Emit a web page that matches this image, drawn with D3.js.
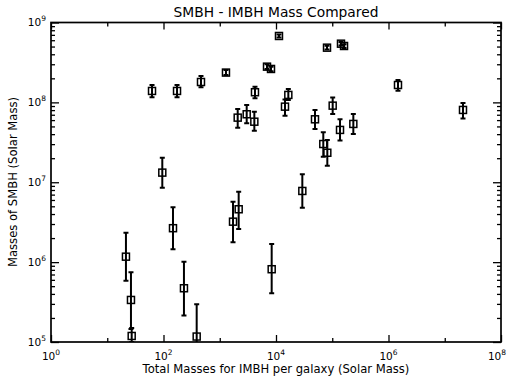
<!DOCTYPE html>
<html>
<head>
<meta charset="utf-8">
<script src="https://d3js.org/d3.v7.min.js"></script>
<style>
    body { margin: 0; background: #fff; }
    svg { display: block; font-family: "DejaVu Sans", sans-serif; }
</style>
</head>
<body>
<svg width="510" height="380"></svg>
<script>

// imbh total mass per galaxy (x) and smbh mass (y) with error range
var imbhMass = [62.5, 174, 464, 1290, 6920, 8150, 11300, 80700, 143000, 162000, 1.475e6, 2.11e7,
    4230, 2085, 3013, 4120, 14450, 16560, 49340, 101800, 69300, 81700, 137400, 237000,
    29380, 8380, 95.2, 147.5, 1721, 2170, 21.5, 26.4, 27.2, 231, 389];
var smbhMass = [1.39e8, 1.39e8, 1.80e8, 2.36e8, 2.80e8, 2.62e8, 6.78e8, 4.84e8, 5.43e8, 5.08e8, 1.65e8, 8.04e7,
    1.34e8, 6.44e7, 7.1e7, 5.73e7, 8.84e7, 1.24e8, 6.14e7, 9.1e7, 3.01e7, 2.34e7, 4.52e7, 5.37e7,
    7.78e6, 8.15e5, 1.32e7, 2.66e6, 3.21e6, 4.59e6, 1.17e6, 3.36e5, 1.19e5, 4.71e5, 1.17e5];
var smbhLow = [1.16e8, 1.16e8, 1.55e8, 2.2e8, 2.62e8, 2.45e8, 6.5e8, 4.6e8, 5.15e8, 4.8e8, 1.40e8, 6.3e7,
    1.13e8, 4.82e7, 5.47e7, 4.42e7, 6.82e7, 1.07e8, 4.65e7, 7.16e7, 2.09e7, 1.61e7, 3.32e7, 4.03e7,
    4.81e6, 4.08e5, 8.55e6, 1.45e6, 1.77e6, 2.6e6, 5.86e5, 1.45e5, 1.0e5, 2.14e5, 5e4];
var smbhHigh = [1.65e8, 1.65e8, 2.14e8, 2.55e8, 3.0e8, 2.8e8, 7.1e8, 5.1e8, 5.7e8, 5.35e8, 1.91e8, 9.8e7,
    1.57e8, 8.27e7, 9.27e7, 7.65e7, 1.09e8, 1.47e8, 8.03e7, 1.15e8, 4.22e7, 3.38e7, 6.14e7, 7.16e7,
    1.26e7, 1.69e6, 2.03e7, 4.86e6, 5.71e6, 7.62e6, 2.34e6, 7.48e5, 1.5e5, 1.01e6, 2.97e5];

var xMajor = [0, 2, 4, 6, 8];
var xMinor = [1, 3, 5, 7];
var yMajor = [5, 6, 7, 8, 9];

var svg = d3.select("svg"),
    width = +svg.attr("width"),
    height = +svg.attr("height");

var boxLeft = 51, boxRight = 501, boxTop = 22.5, boxBottom = 342;

var x = d3.scaleLog().domain([1, 1e8]).range([boxLeft, boxRight]);
var y = d3.scaleLog().domain([1e5, 1e9]).range([boxBottom, boxTop]);

var points = imbhMass.map(function (d, i) {
    return { x: d, y: smbhMass[i], lo: smbhLow[i], hi: smbhHigh[i] };
});

//minor y ticks 2..9 in each decade
var yMinor = [];
yMajor.slice(0, -1).forEach(function (p) {
    for (var k = 2; k <= 9; k++) yMinor.push(k * Math.pow(10, p));
});

function pow10(p) { return Math.pow(10, p); }

//ticks, all pointing inward
function tickAxis(axis, sel, vals, size) {
    var g = svg.append("g")
        .attr("transform", sel)
        .call(axis.tickValues(vals).tickSize(-size).tickFormat(""));
    g.select(".domain").remove();
    g.selectAll("line").attr("stroke", "#000").attr("stroke-width", 1.3);
    return g;
}

tickAxis(d3.axisBottom(x), "translate(0," + boxBottom + ")", xMajor.map(pow10), 7);
tickAxis(d3.axisBottom(x), "translate(0," + boxBottom + ")", xMinor.map(pow10), 4);
tickAxis(d3.axisTop(x), "translate(0," + boxTop + ")", xMajor.map(pow10), 7);
tickAxis(d3.axisTop(x), "translate(0," + boxTop + ")", xMinor.map(pow10), 4);
tickAxis(d3.axisLeft(y), "translate(" + boxLeft + ",0)", yMajor.map(pow10), 8);
tickAxis(d3.axisLeft(y), "translate(" + boxLeft + ",0)", yMinor, 4);
tickAxis(d3.axisRight(y), "translate(" + boxRight + ",0)", yMajor.map(pow10), 8);
tickAxis(d3.axisRight(y), "translate(" + boxRight + ",0)", yMinor, 4);

//frame
svg.append("rect")
    .attr("x", boxLeft)
    .attr("y", boxTop)
    .attr("width", boxRight - boxLeft)
    .attr("height", boxBottom - boxTop)
    .attr("fill", "none")
    .attr("stroke", "#000")
    .attr("stroke-width", 1.7);

//tick labels with superscript exponent
var xLab = svg.append("g").selectAll("text")
    .data(xMajor)
    .enter().append("text")
    .attr("x", function (d) { return x(pow10(d)) - (d == 8 ? 4 : 0); })
    .attr("y", 360)
    .attr("text-anchor", "middle")
    .attr("font-size", 10.5);
xLab.append("tspan").text("10");
xLab.append("tspan").attr("dy", -5).attr("font-size", 7.5).text(function (d) { return d; });

var yLab = svg.append("g").selectAll("text")
    .data(yMajor)
    .enter().append("text")
    .attr("x", 46)
    .attr("y", function (d) { return y(pow10(d)) + 3.5; })
    .attr("text-anchor", "end")
    .attr("font-size", 10.5);
yLab.append("tspan").text("10");
yLab.append("tspan").attr("dy", -5).attr("font-size", 7.5).text(function (d) { return d; });

//titles
svg.append("text")
    .attr("x", (boxLeft + boxRight) / 2)
    .attr("y", 17)
    .attr("text-anchor", "middle")
    .attr("font-size", 13.8)
    .text("SMBH - IMBH Mass Compared");

svg.append("text")
    .attr("x", (boxLeft + boxRight) / 2)
    .attr("y", 373)
    .attr("text-anchor", "middle")
    .attr("font-size", 11.6)
    .text("Total Masses for IMBH per galaxy (Solar Mass)");

svg.append("text")
    .attr("transform", "translate(17,182) rotate(-90)")
    .attr("text-anchor", "middle")
    .attr("font-size", 11.6)
    .text("Masses of SMBH (Solar Mass)");

//error bars, clipped to the plot box
svg.append("clipPath").attr("id", "plotclip")
    .append("rect")
    .attr("x", boxLeft).attr("y", boxTop)
    .attr("width", boxRight - boxLeft).attr("height", boxBottom - boxTop);

var bars = svg.append("g")
    .attr("clip-path", "url(#plotclip)")
    .attr("stroke", "#000")
    .attr("stroke-width", 2)
    .selectAll("g")
    .data(points)
    .enter().append("g");

bars.append("line")
    .attr("x1", function (d) { return x(d.x); })
    .attr("x2", function (d) { return x(d.x); })
    .attr("y1", function (d) { return y(d.lo); })
    .attr("y2", function (d) { return y(d.hi); });

bars.append("line")
    .attr("x1", function (d) { return x(d.x) - 2.5; })
    .attr("x2", function (d) { return x(d.x) + 2.5; })
    .attr("y1", function (d) { return y(d.hi); })
    .attr("y2", function (d) { return y(d.hi); });

bars.append("line")
    .attr("x1", function (d) { return x(d.x) - 2.5; })
    .attr("x2", function (d) { return x(d.x) + 2.5; })
    .attr("y1", function (d) { return y(d.lo); })
    .attr("y2", function (d) { return y(d.lo); });

//square markers
svg.append("g")
    .selectAll("rect")
    .data(points)
    .enter().append("rect")
    .attr("x", function (d) { return x(d.x) - 3.5; })
    .attr("y", function (d) { return y(d.y) - 3.5; })
    .attr("width", 7)
    .attr("height", 7)
    .attr("fill", "none")
    .attr("stroke", "#000")
    .attr("stroke-width", 1.5);

</script>
</body>
</html>
